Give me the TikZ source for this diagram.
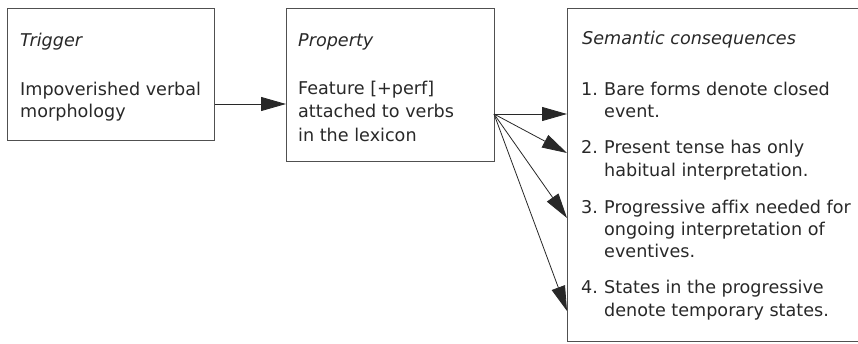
\documentclass[tikz,border=0pt]{standalone}
\usepackage{fontspec}
\setmainfont[Ligatures=NoCommon]{DejaVu Sans}
\usetikzlibrary{arrows.meta}
\definecolor{ink}{HTML}{282828}
\definecolor{frame}{HTML}{505050}
\begin{document}
\begin{tikzpicture}[x=1pt,y=-1pt,
  box/.style={draw=frame, line width=1pt, inner sep=0pt, anchor=north west},
  txt/.style={anchor=base west, inner sep=0pt, text=ink, font=\fontsize{17.6}{22}\selectfont},
  head/.style={txt, font=\fontsize{17.6}{22}\selectfont\itshape},
  conn/.style={draw=ink, line width=0.8pt, -{Triangle[length=25pt,width=14pt]}}]
\useasboundingbox (0,0) rectangle (858,343);
\clip (0,0) rectangle (858,343);
% boxes
\node[box, minimum width=207pt, minimum height=132pt] (trig) at (7,8) {};
\node[box, minimum width=208pt, minimum height=153pt] (prop) at (286,8) {};
\node[box, minimum width=313pt, minimum height=333pt] (sem) at (567,8) {};
% trigger text
\node[head] (th) at (20,46) {Trigger};
\node[txt] (t1) at (20,95) {Impoverished verbal};
\node[txt] (t2) at (20,117) {morphology};
% property text
\node[head] (ph) at (298,46) {Property};
\node[txt] (p1) at (298,94) {Feature [+perf]};
\node[txt] (p2) at (298,117) {attached to verbs};
\node[txt] (p3) at (298,141) {in the lexicon};
% semantic consequences text
\node[head] (sh) at (582,44) {Semantic consequences};
\node[txt] (n1) at (581,95) {1.};
\node[txt] (s1a) at (604,95) {Bare forms denote closed};
\node[txt] (s1b) at (604,117) {event.};
\node[txt] (n2) at (581,153) {2.};
\node[txt] (s2a) at (604,153) {Present tense has only};
\node[txt] (s2b) at (604,176) {habitual interpretation.};
\node[txt] (n3) at (581,213) {3.};
\node[txt] (s3a) at (604,213) {Progressive affix needed for};
\node[txt] (s3b) at (604,235) {ongoing interpretation of};
\node[txt] (s3c) at (604,257) {eventives.};
\node[txt] (n4) at (581,293) {4.};
\node[txt] (s4a) at (604,293) {States in the progressive};
\node[txt] (s4b) at (604,316) {denote temporary states.};
% connectors
\coordinate (ya) at (0,104);
\draw[conn] (trig.east |- ya) -- (prop.west |- ya);
\coordinate (fan) at (494,114);
\coordinate (y1) at (0,114);
\coordinate (y2) at (0,153);
\coordinate (y3) at (0,218);
\coordinate (y4) at (0,311);
\draw[conn] (fan) -- (sem.west |- y1);
\draw[conn] (fan) -- (sem.west |- y2);
\draw[conn] (fan) -- (sem.west |- y3);
\draw[conn] (fan) -- (sem.west |- y4);
\end{tikzpicture}
\end{document}
